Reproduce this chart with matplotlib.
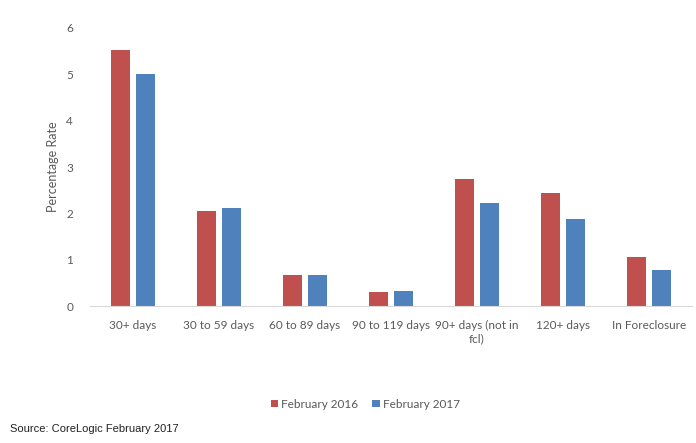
import numpy as np
import matplotlib
matplotlib.use("Agg")
import matplotlib.pyplot as plt

categories = ["30+ days", "30 to 59 days", "60 to 89 days", "90 to 119 days",
              "90+ days (not in\nfcl)", "120+ days", "In Foreclosure"]
feb_2016 = [5.53, 2.06, 0.67, 0.31, 2.74, 2.43, 1.05]
feb_2017 = [5.01, 2.12, 0.67, 0.32, 2.22, 1.87, 0.78]
series_labels = ["February 2016", "February 2017"]
yticks = [0, 1, 2, 3, 4, 5, 6]

plt.rcParams["font.family"] = ["Lato", "DejaVu Sans"]
txt = "#595959"

fig = plt.figure(figsize=(6.96, 4.43), dpi=100)
ax = fig.add_axes([0.129, 0.309, 0.865, 0.628])

x = np.arange(len(categories))
w = 0.22
ax.bar(x - 0.143, feb_2016, w, color="#C0504D", label=series_labels[0])
ax.bar(x + 0.143, feb_2017, w, color="#4F81BD", label=series_labels[1])

ax.set_xlim(-0.5, len(categories) - 0.5)
ax.set_ylim(0, 6)
ax.set_yticks(yticks)
ax.set_xticks(x)
ax.set_xticklabels(categories, fontsize=8.5, color=txt, va="top")
ax.tick_params(axis="y", labelsize=8.5, labelcolor=txt, length=0, pad=12)
ax.tick_params(axis="x", length=0, pad=10)
for s in ["top", "right", "left"]:
    ax.spines[s].set_visible(False)
ax.spines["bottom"].set_color("#d9d9d9")
ax.set_ylabel("Percentage Rate", fontsize=9, color=txt, labelpad=5)

fig.legend(loc="center", bbox_to_anchor=(0.525, 0.088), ncol=2, frameon=False,
           fontsize=8.5, handlelength=0.6, handleheight=0.6, columnspacing=1.2,
           handletextpad=0.3, labelcolor=txt)

fig.text(0.014, 0.025, "Source: CoreLogic February 2017", fontsize=8,
         family="Liberation Sans", color="#222222")

fig.savefig("out.png", dpi=100)
